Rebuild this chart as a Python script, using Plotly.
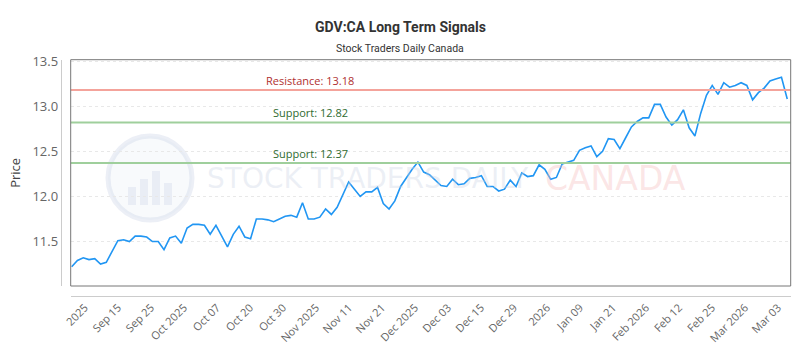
import plotly.graph_objects as go

# ---- data ----
prices = [11.22, 11.29, 11.32, 11.30, 11.31, 11.25, 11.27, 11.39, 11.51, 11.52,
          11.50, 11.56, 11.56, 11.55, 11.50, 11.50, 11.41, 11.54, 11.56, 11.48,
          11.65, 11.69, 11.69, 11.68, 11.58, 11.68, 11.56, 11.44, 11.58, 11.67,
          11.55, 11.53, 11.75, 11.75, 11.74, 11.72, 11.75, 11.78, 11.79, 11.77,
          11.93, 11.75, 11.75, 11.77, 11.86, 11.80, 11.88, 12.02, 12.16, 12.08,
          12.00, 12.05, 12.05, 12.10, 11.92, 11.86, 11.95, 12.11, 12.21, 12.30,
          12.38, 12.27, 12.24, 12.18, 12.12, 12.11, 12.19, 12.13, 12.14, 12.20,
          12.21, 12.23, 12.11, 12.11, 12.06, 12.08, 12.18, 12.11, 12.26, 12.22,
          12.23, 12.35, 12.30, 12.19, 12.21, 12.36, 12.38, 12.40, 12.51, 12.54,
          12.56, 12.44, 12.50, 12.64, 12.63, 12.53, 12.65, 12.77, 12.83, 12.87,
          12.87, 13.02, 13.02, 12.88, 12.79, 12.85, 12.96, 12.76, 12.67, 12.92,
          13.12, 13.23, 13.13, 13.26, 13.21, 13.23, 13.26, 13.23, 13.07, 13.15,
          13.20, 13.28, 13.30, 13.32, 13.08]

tick_labels = ["2025", "Sep 15", "Sep 25", "Oct 2025", "Oct 07", "Oct 20", "Oct 30",
               "Nov 2025", "Nov 11", "Nov 21", "Dec 2025", "Dec 03", "Dec 15", "Dec 29",
               "2026", "Jan 09", "Jan 21", "Feb 2026", "Feb 12", "Feb 25", "Mar 2026", "Mar 03"]

resistance_levels = [13.18]
support_levels = [12.82, 12.37]

y_ticks = [11.5, 12.0, 12.5, 13.0, 13.5]

# ---- figure ----
x_idx = list(range(len(prices)))
tick_start = 2.3
tick_step = 5.72
tick_pos = [tick_start + i * tick_step for i in range(len(tick_labels))]

fig = go.Figure()
fig.add_trace(go.Scatter(x=x_idx, y=prices, mode="lines",
                         line=dict(color="#2196f3", width=1.6),
                         hoverinfo="skip", showlegend=False))

xd = [70.7 / 800, 790.7 / 800]
yd = [1 - 286 / 350, 1 - 59.7 / 350]

label_x = 310 / 800
for lv in resistance_levels:
    fig.add_hline(y=lv, line=dict(color="#f4a39b", width=2), layer="above")
    fig.add_annotation(x=label_x, xref="paper", y=lv, yref="y", yanchor="bottom",
                       text=f"Resistance: {lv:.2f}", showarrow=False, yshift=0,
                       font=dict(family="Open Sans", size=11, color="#b03030"))
for lv in support_levels:
    fig.add_hline(y=lv, line=dict(color="#9fcf9c", width=2), layer="above")
    fig.add_annotation(x=label_x, xref="paper", y=lv, yref="y", yanchor="bottom",
                       text=f"Support: {lv:.2f}", showarrow=False, yshift=0,
                       font=dict(family="Open Sans", size=11, color="#2f6b2f"))

# title and subtitle
fig.add_annotation(x=0.5, y=1 - 17 / 350, xref="paper", yref="paper", showarrow=False,
                   text="<b>GDV:CA Long Term Signals</b>",
                   font=dict(family="Roboto", size=14, color="#333333"))
fig.add_annotation(x=0.5, y=1 - 40 / 350, xref="paper", yref="paper", showarrow=False,
                   text="Stock Traders Daily Canada",
                   font=dict(family="Roboto", size=10.5, color="#333333"))

# watermark
fig.add_annotation(x=205 / 800, y=1 - 178 / 350, xref="paper", yref="paper", xanchor="left",
                   text="STOCK TRADERS DAILY", showarrow=False,
                   font=dict(family="DejaVu Sans", size=28, color="rgba(200,210,228,0.35)"))
fig.add_annotation(x=543 / 800, y=1 - 178 / 350, xref="paper", yref="paper", xanchor="left",
                   text="CANADA", showarrow=False,
                   font=dict(family="DejaVu Sans", size=33, color="rgba(245,190,190,0.4)"))
cx, cy, r = 150, 178, 42
fig.add_shape(type="circle", xref="paper", yref="paper",
              x0=(cx - r) / 800, x1=(cx + r) / 800, y0=1 - (cy + r) / 350, y1=1 - (cy - r) / 350,
              line=dict(color="rgba(200,210,228,0.35)", width=5),
              fillcolor="rgba(220,228,240,0.2)", layer="below")
for bx, bh in [(128, 18), (140, 26), (152, 34), (164, 22)]:
    fig.add_shape(type="rect", xref="paper", yref="paper",
                  x0=bx / 800, x1=(bx + 8) / 800, y0=1 - 205 / 350, y1=1 - (205 - bh) / 350,
                  line=dict(width=0), fillcolor="rgba(200,210,228,0.3)", layer="below")

# plot box
fig.add_shape(type="rect", xref="paper", yref="paper", x0=xd[0], x1=xd[1], y0=yd[0], y1=yd[1],
              line=dict(color="#777777", width=1))

fig.update_layout(
    width=800, height=350, autosize=False,
    margin=dict(l=0, r=0, t=0, b=0),
    paper_bgcolor="white", plot_bgcolor="white",
    xaxis=dict(domain=xd, range=[-0.17, 124.6], anchor="free", position=1 - 296 / 350,
               automargin=False,
               showline=True, linecolor="#cccccc", linewidth=1,
               showgrid=False, zeroline=False, ticks="",
               tickmode="array", tickvals=tick_pos, ticktext=tick_labels,
               tickangle=-45, tickfont=dict(family="Open Sans", size=11, color="#666666")),
    yaxis=dict(domain=yd, range=[11.007, 13.515], anchor="free", position=60.7 / 800,
               automargin=False,
               showline=True, linecolor="#cccccc", linewidth=1,
               showgrid=True, gridcolor="#e8e8e8", griddash="3px,3px", zeroline=False,
               ticks="", tickmode="array", tickvals=y_ticks, ticktext=[f"{v:.1f}" for v in y_ticks],
               tickfont=dict(family="Open Sans", size=13, color="#666666"),
               title=dict(text="Price", font=dict(family="Open Sans", size=13, color="#444444"), standoff=7)),
)

fig.write_html("out.html")
